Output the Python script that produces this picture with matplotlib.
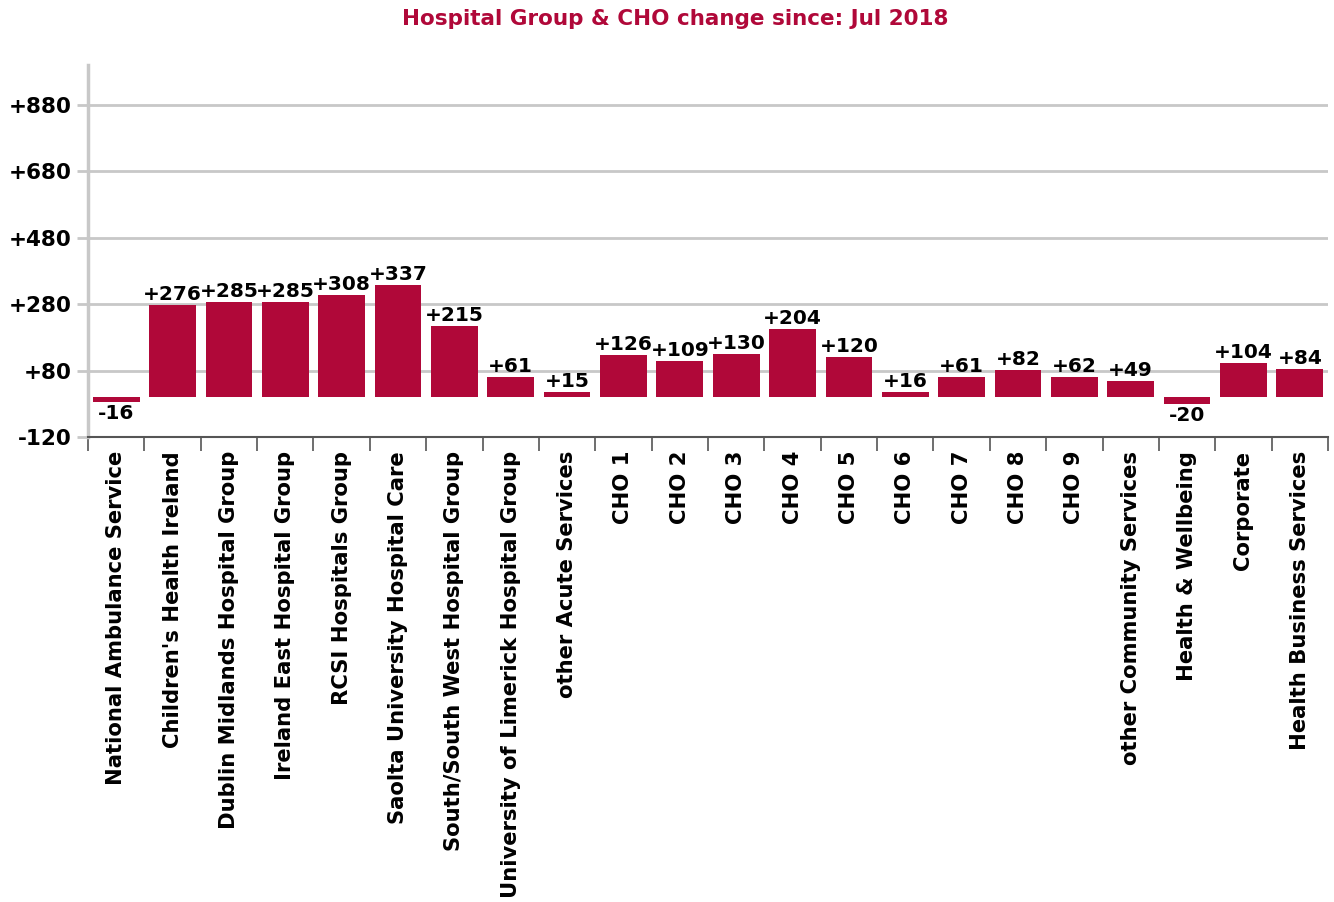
import numpy as np
import matplotlib
matplotlib.use("Agg")
import matplotlib.pyplot as plt
from matplotlib.ticker import FixedLocator

categories = ["National Ambulance Service", "Children's Health Ireland",
              "Dublin Midlands Hospital Group", "Ireland East Hospital Group",
              "RCSI Hospitals Group", "Saolta University Hospital Care",
              "South/South West Hospital Group", "University of Limerick Hospital Group",
              "other Acute Services", "CHO 1", "CHO 2", "CHO 3", "CHO 4", "CHO 5",
              "CHO 6", "CHO 7", "CHO 8", "CHO 9", "other Community Services",
              "Health & Wellbeing", "Corporate", "Health Business Services"]
changes = [-16, 276, 285, 285, 308, 337, 215, 61, 15, 126, 109, 130, 204, 120,
           16, 61, 82, 62, 49, -20, 104, 84]
yticks = [-120, 80, 280, 480, 680, 880]

red = "#b00839"
plt.rcParams['font.family'] = ['DejaVu Sans']
plt.rcParams['font.weight'] = 'bold'

fig = plt.figure(figsize=(13.34, 9.02), dpi=100)
ax = fig.add_axes([88/1334, 1-437/902, 1240/1334, 372/902])

x = np.arange(len(categories))
ax.bar(x, changes, width=0.83, color=red, zorder=3)

for xi, v in zip(x, changes):
    if v >= 0:
        ax.text(xi, v + 3, "%+d" % v, ha='center', va='bottom', fontsize=14.5,
                fontweight='bold', color='black', zorder=4)
    else:
        ax.text(xi, v - 6, "%d" % v, ha='center', va='top', fontsize=14.5,
                fontweight='bold', color='black', zorder=4)

ax.set_xlim(-0.5, len(categories) - 0.5)
ax.set_ylim(-120, 1000)
ax.set_yticks(yticks)
ax.set_yticklabels(["%+d" % t for t in yticks], fontsize=15.5, fontweight='bold')
ax.yaxis.grid(True, color='#c8c8c8', linewidth=2, zorder=0)

# category labels at centres, tick marks at the boundaries
ax.set_xticks(x)
ax.set_xticklabels(categories, rotation=90, fontsize=15.2, fontweight='bold')
ax.tick_params(axis='x', which='major', length=0, pad=10)
ax.xaxis.set_minor_locator(FixedLocator(np.arange(-0.5, len(categories), 1.0)))
ax.tick_params(axis='x', which='minor', length=10, width=1.2, color='#555555', direction='out')
ax.tick_params(axis='y', length=8, width=2, color='#c8c8c8', pad=4)

for s in ['top', 'right']:
    ax.spines[s].set_visible(False)
ax.spines['left'].set_color('#c8c8c8')
ax.spines['left'].set_linewidth(2.5)
ax.spines['bottom'].set_color('#555555')
ax.spines['bottom'].set_linewidth(1.5)

fig.text(675/1334, 1 - 19/902, "Hospital Group & CHO change since: Jul 2018", ha='center',
         va='center', fontsize=15.5, fontweight='bold', color=red)

fig.savefig("out.png", dpi=100)
